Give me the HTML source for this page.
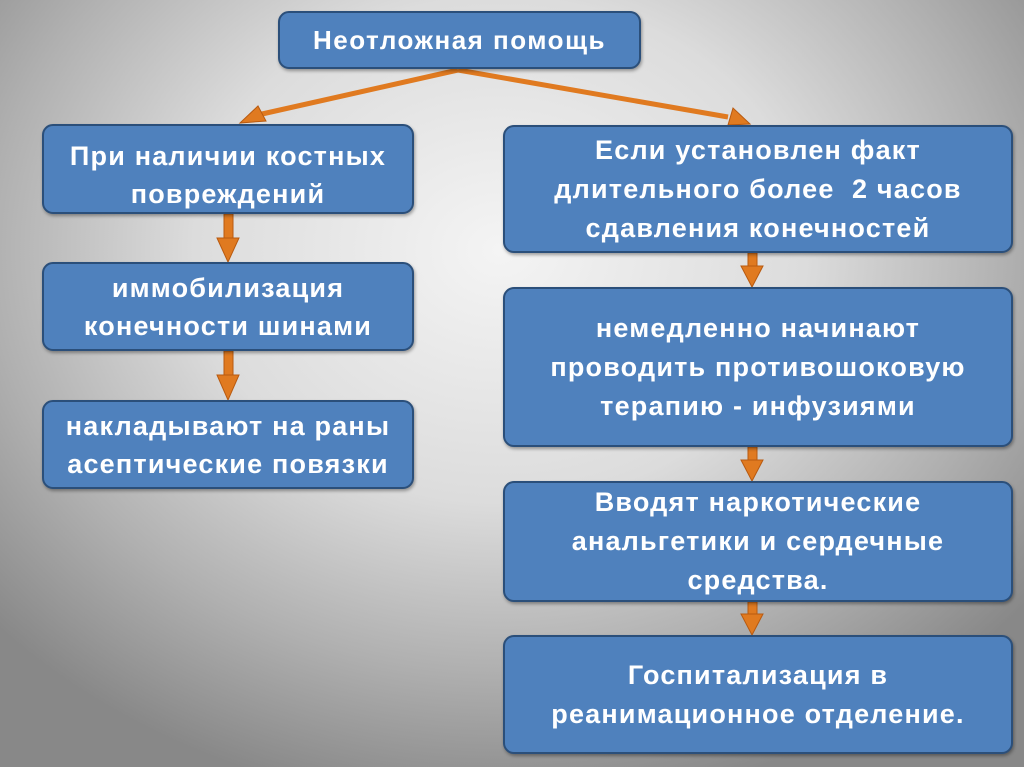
<!DOCTYPE html>
<html><head><meta charset="utf-8"><style>
html,body{margin:0;padding:0}
body{width:1024px;height:767px;position:relative;overflow:hidden;
background:radial-gradient(ellipse 680px 560px at 500px 250px,#f4f4f4 0%,#dcdcdc 45%,#b0b0b0 75%,#888 100%);
font-family:"Liberation Sans","DejaVu Sans",sans-serif;}
.b{position:absolute;box-sizing:border-box;background:#4f81bd;border:2px solid #2b4f7a;border-radius:11px;
color:#fff;font-weight:bold;font-size:27px;letter-spacing:1.2px;line-height:39px;display:flex;align-items:center;justify-content:center;text-align:center;
box-shadow:1px 2px 3px rgba(0,0,0,.35);white-space:nowrap}
svg{position:absolute;left:0;top:0}
</style></head><body>
<svg width="1024" height="767">
<g fill="#e07a20" stroke="#b85a10" stroke-width="1">
<line x1="458" y1="70" x2="262" y2="114" stroke="#e07a20" stroke-width="5"/>
<line x1="458" y1="70" x2="728" y2="117" stroke="#e07a20" stroke-width="5"/>
<polygon points="240,123 258,106 266,121"/>
<polygon points="750,124 733,108 728,125"/>
<rect x="224" y="214" width="9" height="26"/>
<polygon points="217,238 239,238 228,262"/>
<rect x="224" y="351" width="9" height="26"/>
<polygon points="217,375 239,375 228,400"/>
<rect x="748" y="253" width="9" height="15"/>
<polygon points="741,266 763,266 752,287"/>
<rect x="748" y="447" width="9" height="15"/>
<polygon points="741,460 763,460 752,481"/>
<rect x="748" y="602" width="9" height="14"/>
<polygon points="741,614 763,614 752,635"/>
</g>
</svg>
<div class="b" style="left:278px;top:11px;width:363px;height:58px;font-size:26px;letter-spacing:1.5px">Неотложная помощь</div>
<div class="b" style="left:42px;top:124px;width:372px;height:90px;align-items:flex-start;padding-top:11px;line-height:38px">При наличии костных<br>повреждений</div>
<div class="b" style="left:42px;top:262px;width:372px;height:89px;line-height:38px">иммобилизация<br>конечности шинами</div>
<div class="b" style="left:42px;top:400px;width:372px;height:89px;line-height:38px">накладывают на раны<br>асептические повязки</div>
<div class="b" style="left:503px;top:125px;width:510px;height:128px">Если установлен факт<br>длительного более&nbsp; 2 часов<br>сдавления конечностей</div>
<div class="b" style="left:503px;top:287px;width:510px;height:160px">немедленно начинают<br>проводить противошоковую<br>терапию - инфузиями</div>
<div class="b" style="left:503px;top:481px;width:510px;height:121px">Вводят наркотические<br>анальгетики и сердечные<br>средства.</div>
<div class="b" style="left:503px;top:635px;width:510px;height:119px">Госпитализация в<br>реанимационное отделение.</div>
</body></html>
